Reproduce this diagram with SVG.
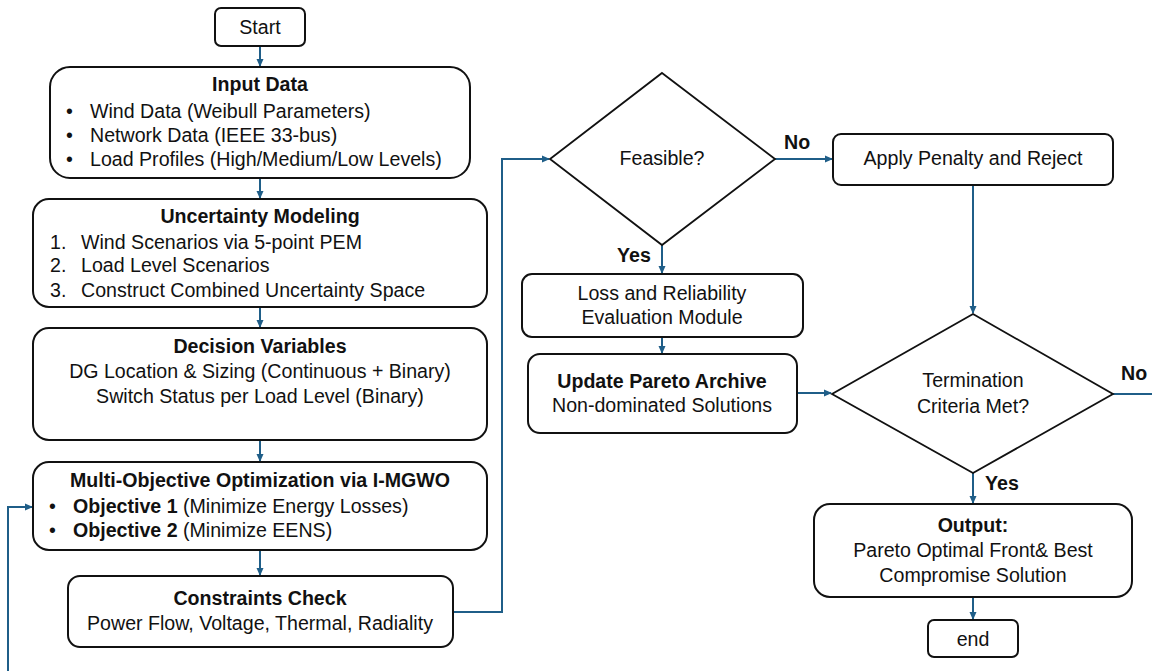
<svg xmlns="http://www.w3.org/2000/svg" width="1152" height="671" viewBox="0 0 1152 671">
<style>
.box{fill:#fff;stroke:#111;stroke-width:2}
.dia{fill:#fff;stroke:#111;stroke-width:1.8}
.t{font-family:"Liberation Sans",Arial,sans-serif;font-size:19.6px;fill:#111}
.c{text-anchor:middle}
.b{font-weight:bold}
.con{fill:none;stroke:#1f5e88;stroke-width:2}
</style>
<defs>
<marker id="ah" markerWidth="8" markerHeight="8" refX="7" refY="4" orient="auto" markerUnits="userSpaceOnUse">
<path d="M0,0.5 L8,4 L0,7.5 Z" fill="#1f5e88"/>
</marker>
</defs>
<rect width="1152" height="671" fill="#fff"/>
<g id="connectors">
<path class="con" d="M260,46 V66" marker-end="url(#ah)"/>
<path class="con" d="M260,178 V198" marker-end="url(#ah)"/>
<path class="con" d="M260,307 V327" marker-end="url(#ah)"/>
<path class="con" d="M260,440 V461" marker-end="url(#ah)"/>
<path class="con" d="M260,550 V575" marker-end="url(#ah)"/>
<path class="con" d="M453,612 H502 V159 H549" marker-end="url(#ah)"/>
<path class="con" d="M775,159 H832" marker-end="url(#ah)"/>
<path class="con" d="M662,245 V273" marker-end="url(#ah)"/>
<path class="con" d="M662,337 V353" marker-end="url(#ah)"/>
<path class="con" d="M797,393 H831" marker-end="url(#ah)"/>
<path class="con" d="M973,185 V313" marker-end="url(#ah)"/>
<path class="con" d="M1113,394 H1152"/>
<path class="con" d="M973,473 V503" marker-end="url(#ah)"/>
<path class="con" d="M973,597 V619" marker-end="url(#ah)"/>
<path class="con" d="M8,671 V507 H32" marker-end="url(#ah)"/>
<text class="t b" x="784" y="149">No</text>
<text class="t b" x="617" y="262">Yes</text>
<text class="t b" x="1121" y="380">No</text>
<text class="t b" x="985" y="490">Yes</text>
</g>
<g id="start">
<rect class="box" x="215" y="8" width="90" height="38" rx="6"/>
<text class="t c" x="260" y="34">Start</text>
</g>
<g id="input">
<rect class="box" x="50" y="67" width="420" height="111" rx="20"/>
<text class="t c b" x="260" y="91">Input Data</text>
<text class="t" x="66" y="118">•</text><text class="t" x="90" y="118">Wind Data (Weibull Parameters)</text>
<text class="t" x="66" y="142">•</text><text class="t" x="90" y="142">Network Data (IEEE 33-bus)</text>
<text class="t" x="66" y="166">•</text><text class="t" x="90" y="166">Load Profiles (High/Medium/Low Levels)</text>
</g>
<g id="uncertainty">
<rect class="box" x="33" y="199" width="454" height="108" rx="16"/>
<text class="t c b" x="260" y="223">Uncertainty Modeling</text>
<text class="t" x="50" y="249">1.</text><text class="t" x="81" y="249">Wind Scenarios via 5-point PEM</text>
<text class="t" x="50" y="272">2.</text><text class="t" x="81" y="272">Load Level Scenarios</text>
<text class="t" x="50" y="297">3.</text><text class="t" x="81" y="297">Construct Combined Uncertainty Space</text>
</g>
<g id="decision">
<rect class="box" x="33" y="328" width="454" height="112" rx="16"/>
<text class="t c b" x="260" y="353">Decision Variables</text>
<text class="t c" x="260" y="378">DG Location &amp; Sizing (Continuous + Binary)</text>
<text class="t c" x="260" y="403">Switch Status per Load Level (Binary)</text>
</g>
<g id="moo">
<rect class="box" x="33" y="462" width="454" height="88" rx="16"/>
<text class="t c b" x="260" y="487">Multi-Objective Optimization via I-MGWO</text>
<text class="t" x="49" y="513">•</text><text class="t" x="73" y="513"><tspan class="b">Objective 1</tspan> (Minimize Energy Losses)</text>
<text class="t" x="49" y="537">•</text><text class="t" x="73" y="537"><tspan class="b">Objective 2</tspan> (Minimize EENS)</text>
</g>
<g id="constraints">
<rect class="box" x="68" y="576" width="385" height="71" rx="12"/>
<text class="t c b" x="260" y="605">Constraints Check</text>
<text class="t c" x="260" y="630">Power Flow, Voltage, Thermal, Radiality</text>
</g>
<g id="feasible">
<polygon class="dia" points="662,73 775,159 662,245 550,159"/>
<text class="t c" x="662" y="165">Feasible?</text>
</g>
<g id="penalty">
<rect class="box" x="833" y="134" width="280" height="51" rx="8"/>
<text class="t c" x="973" y="165">Apply Penalty and Reject</text>
</g>
<g id="loss">
<rect class="box" x="522" y="274" width="281" height="63" rx="10"/>
<text class="t c" x="662" y="300">Loss and Reliability</text>
<text class="t c" x="662" y="324">Evaluation Module</text>
</g>
<g id="pareto">
<rect class="box" x="528" y="354" width="269" height="79" rx="12"/>
<text class="t c b" x="662" y="388">Update Pareto Archive</text>
<text class="t c" x="662" y="412">Non-dominated Solutions</text>
</g>
<g id="termination">
<polygon class="dia" points="973,314 1113,394 973,473 832,394"/>
<text class="t c" x="973" y="387">Termination</text>
<text class="t c" x="973" y="413">Criteria Met?</text>
</g>
<g id="output">
<rect class="box" x="814" y="504" width="318" height="93" rx="16"/>
<text class="t c b" x="973" y="532">Output:</text>
<text class="t c" x="973" y="557">Pareto Optimal Front&amp; Best</text>
<text class="t c" x="973" y="582">Compromise Solution</text>
</g>
<g id="end">
<rect class="box" x="928" y="620" width="90" height="37" rx="6"/>
<text class="t c" x="973" y="646">end</text>
</g>
</svg>
